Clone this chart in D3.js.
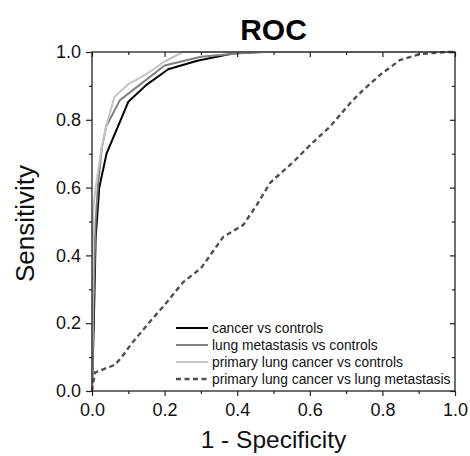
<!DOCTYPE html>
<html>
<head>
<meta charset="utf-8">
<script src="https://cdn.jsdelivr.net/npm/d3@7"></script>
<style>
  body { margin: 0; background: #fff; }
  svg { font-family: "Liberation Sans", Arial, sans-serif; }
</style>
</head>
<body>
<svg id="chart" width="470" height="456"></svg>
<script>
// curves: [1 - specificity, sensitivity]
var cancerVsControls = [[0,0],[0.005,0.2],[0.01,0.45],[0.02,0.6],[0.04,0.7],[0.1,0.853],[0.15,0.903],[0.21,0.949],[0.29,0.974],[0.39,0.996],[0.47,1],[1,1]];
var metastasisVsControls = [[0,0],[0.005,0.3],[0.01,0.5],[0.016,0.6],[0.027,0.717],[0.039,0.78],[0.077,0.858],[0.2,0.96],[0.3,0.986],[0.45,1],[1,1]];
var primaryVsControls = [[0,0],[0.002,0.3],[0.003,0.53],[0.01,0.6],[0.027,0.72],[0.04,0.785],[0.062,0.868],[0.1,0.905],[0.15,0.935],[0.2,0.972],[0.25,1],[1,1]];
var primaryVsMetastasis = [[0,0],[0.003,0.025],[0.009,0.055],[0.063,0.077],[0.082,0.1],[0.109,0.14],[0.164,0.21],[0.196,0.249],[0.252,0.322],[0.27,0.337],[0.3,0.362],[0.362,0.455],[0.417,0.49],[0.454,0.549],[0.49,0.613],[0.509,0.632],[0.555,0.676],[0.61,0.735],[0.656,0.78],[0.711,0.849],[0.747,0.888],[0.793,0.932],[0.848,0.976],[0.904,0.994],[0.977,1],[1,1]];

var seriesNames = ["cancer vs controls", "lung metastasis vs controls", "primary lung cancer vs controls", "primary lung cancer vs lung metastasis"];
var seriesData = [cancerVsControls, metastasisVsControls, primaryVsControls, primaryVsMetastasis];
var seriesColors = ["#000000", "#808080", "#c4c4c4", "#505050"];
var seriesDash = [null, null, null, "5,3.5"];

var majorTicks = [0, 0.2, 0.4, 0.6, 0.8, 1.0];
var minorTicks = [0.1, 0.3, 0.5, 0.7, 0.9];

var svg = d3.select("#chart");
var plotLeft = 92, plotRight = 455, plotTop = 52, plotBottom = 391;

var x = d3.scaleLinear().domain([0, 1]).range([plotLeft, plotRight]);
var y = d3.scaleLinear().domain([0, 1]).range([plotBottom, plotTop]);
var fmt = d3.format(".1f");

// title
svg.append("text").attr("x", (plotLeft + plotRight) / 2).attr("y", 40)
    .attr("text-anchor", "middle").style("font-size", "30px").style("font-weight", "bold")
    .text("ROC");

// curves
var line = d3.line().x(function(d) { return x(d[0]); }).y(function(d) { return y(d[1]); });
svg.selectAll(".curve").data(seriesData).enter().append("path")
    .attr("class", "curve")
    .attr("d", line)
    .attr("fill", "none")
    .attr("stroke", function(d, i) { return seriesColors[i]; })
    .attr("stroke-width", function(d, i) { return i == 3 ? 2.4 : 2; })
    .attr("stroke-dasharray", function(d, i) { return seriesDash[i]; })
    .attr("stroke-linejoin", "round");

// frame
svg.append("rect").attr("x", plotLeft).attr("y", plotTop)
    .attr("width", plotRight - plotLeft).attr("height", plotBottom - plotTop)
    .attr("fill", "none").attr("stroke", "#222").attr("stroke-width", 1.3);

function styleAxis(g) {
  g.select(".domain").remove();
  g.selectAll(".tick line").attr("stroke", "#222").attr("stroke-width", 1.2);
  g.selectAll(".tick text").style("font-size", "18px").attr("fill", "#111");
}

// bottom / left: outward ticks with labels
svg.append("g").attr("transform", "translate(0," + plotBottom + ")")
    .call(d3.axisBottom(x).tickValues(majorTicks).tickFormat(fmt).tickSize(5).tickPadding(7))
    .call(styleAxis);
svg.append("g").attr("transform", "translate(0," + plotBottom + ")")
    .call(d3.axisBottom(x).tickValues(minorTicks).tickFormat("").tickSize(3))
    .call(styleAxis);
svg.append("g").attr("transform", "translate(" + plotLeft + ",0)")
    .call(d3.axisLeft(y).tickValues(majorTicks).tickFormat(fmt).tickSize(6).tickPadding(5))
    .call(styleAxis);
svg.append("g").attr("transform", "translate(" + plotLeft + ",0)")
    .call(d3.axisLeft(y).tickValues(minorTicks).tickFormat("").tickSize(3))
    .call(styleAxis);

// top / right: inward ticks, no labels
svg.append("g").attr("transform", "translate(0," + plotTop + ")")
    .call(d3.axisTop(x).tickValues(majorTicks).tickFormat("").tickSize(-5))
    .call(styleAxis);
svg.append("g").attr("transform", "translate(0," + plotTop + ")")
    .call(d3.axisTop(x).tickValues(minorTicks).tickFormat("").tickSize(-3))
    .call(styleAxis);
svg.append("g").attr("transform", "translate(" + plotRight + ",0)")
    .call(d3.axisRight(y).tickValues(majorTicks).tickFormat("").tickSize(-5))
    .call(styleAxis);
svg.append("g").attr("transform", "translate(" + plotRight + ",0)")
    .call(d3.axisRight(y).tickValues(minorTicks).tickFormat("").tickSize(-3))
    .call(styleAxis);

// axis titles
svg.append("text").attr("x", (plotLeft + plotRight) / 2).attr("y", 448)
    .attr("text-anchor", "middle").style("font-size", "24.5px").attr("fill", "#111")
    .text("1 - Specificity");
svg.append("text").attr("transform", "translate(34," + ((plotTop + plotBottom) / 2 + 2) + ") rotate(-90)")
    .attr("text-anchor", "middle").style("font-size", "26px").attr("fill", "#111")
    .text("Sensitivity");

// legend
var legend = svg.selectAll(".legend").data(seriesNames).enter().append("g")
    .attr("class", "legend")
    .attr("transform", function(d, i) { return "translate(176," + (328 + i * 17) + ")"; });
legend.append("line").attr("x1", 0).attr("x2", 32).attr("y1", 0).attr("y2", 0)
    .attr("stroke", function(d, i) { return seriesColors[i]; })
    .attr("stroke-width", function(d, i) { return i == 3 ? 2.4 : 2; })
    .attr("stroke-dasharray", function(d, i) { return seriesDash[i]; });
legend.append("text").attr("x", 36).attr("y", 0).attr("dy", "0.35em")
    .style("font-size", "13.8px").attr("fill", "#111")
    .text(function(d) { return d; });
</script>
</body>
</html>
